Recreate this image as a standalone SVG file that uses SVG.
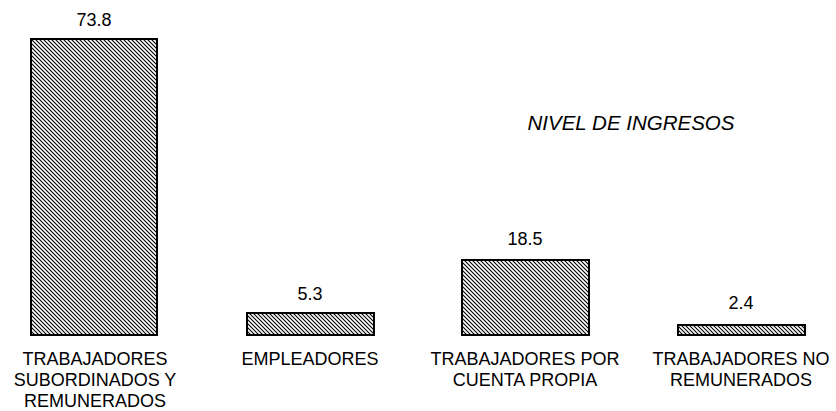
<svg xmlns="http://www.w3.org/2000/svg" width="836" height="411" viewBox="0 0 836 411">
<style>
text{font-family:"Liberation Sans",Arial,sans-serif;font-size:18px;fill:#000;text-anchor:middle}
.bar{fill:url(#hatch);stroke:#000;stroke-width:2}
.t{font-style:italic;font-size:20.5px}
</style>
<defs>
<pattern id="hatch" patternUnits="userSpaceOnUse" width="4" height="4">
<rect width="4" height="4" fill="#fff"/>
<path d="M-1,-1 L5,5 M-1,3 L1,5 M3,-1 L5,1" stroke="#000" stroke-width="1.1"/>
</pattern>
</defs>
<rect width="836" height="411" fill="#fff"/>
<g id="bar1"><rect class="bar" x="31" y="39" width="126" height="296"/><text x="94" y="26">73.8</text>
<text x="95" y="364.5">TRABAJADORES</text><text x="95" y="385.5">SUBORDINADOS Y</text><text x="95" y="406.5">REMUNERADOS</text></g>
<g id="bar2"><rect class="bar" x="247" y="313" width="127" height="22"/><text x="310" y="300">5.3</text>
<text x="310" y="364.5">EMPLEADORES</text></g>
<g id="bar3"><rect class="bar" x="462" y="260" width="127" height="75"/><text x="525" y="245">18.5</text>
<text x="525" y="364.5">TRABAJADORES POR</text><text x="525" y="385.5">CUENTA PROPIA</text></g>
<g id="bar4"><rect class="bar" x="678" y="325" width="127" height="10"/><text x="741" y="309">2.4</text>
<text x="741" y="364.5">TRABAJADORES NO</text><text x="741" y="385.5">REMUNERADOS</text></g>
<g id="title"><text class="t" x="631" y="130">NIVEL DE INGRESOS</text></g>
<g id="connectors"/>
</svg>
